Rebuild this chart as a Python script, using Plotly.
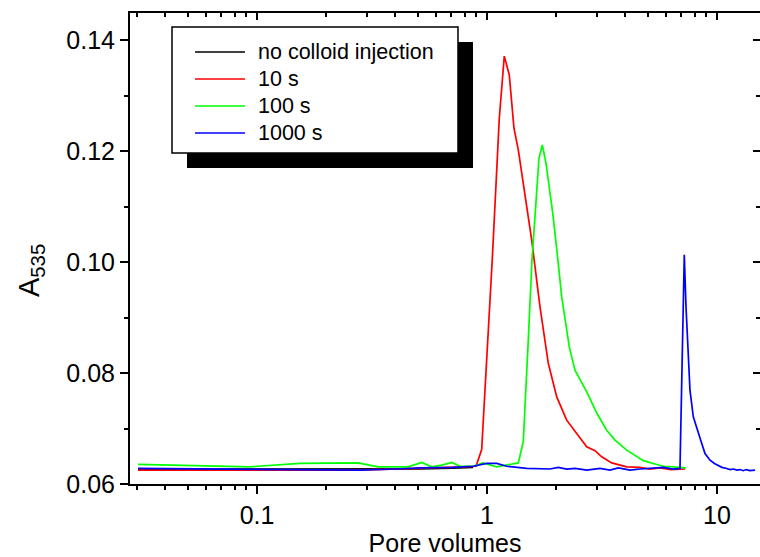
import plotly.graph_objects as go

# ---------------- data ----------------
series_names = ["no colloid injection", "10 s", "100 s", "1000 s"]
series_colors = ["#000000", "#FF0000", "#00FF00", "#0000FF"]

x_none = [0.0304, 0.15, 0.28, 0.51, 0.71, 0.87]
y_none = [0.06265, 0.06262, 0.06262, 0.06272, 0.06285, 0.06300]

x_10s = [0.0304, 0.26, 0.51, 0.71, 0.896, 0.948, 1.054, 1.131, 1.189, 1.250, 1.310,
         1.368, 1.462, 1.564, 1.700, 1.848, 2.01, 2.22, 2.455, 2.714, 2.949,
         3.153, 3.485, 4.05, 4.62, 5.10, 5.65, 6.30, 7.26]
y_10s = [0.0625, 0.0625, 0.0628, 0.0630, 0.0632, 0.0662, 0.1004, 0.1259, 0.1371, 0.1337, 0.1241,
         0.1202, 0.1124, 0.1040, 0.0919, 0.0817, 0.0757, 0.0715, 0.0691, 0.0667, 0.0660,
         0.0649, 0.0638, 0.0631, 0.0630, 0.0627, 0.0629, 0.0626, 0.0627]

x_100s = [0.0304, 0.0932, 0.1538, 0.2749, 0.3358, 0.4533, 0.5201, 0.5747, 0.6353, 0.7024,
          0.7632, 0.872, 0.961, 1.102, 1.368, 1.438, 1.512, 1.569, 1.683, 1.740, 1.805,
          1.931, 2.02, 2.113, 2.279, 2.413, 2.714, 3.008, 3.315, 3.602, 4.05, 4.445,
          4.783, 5.285, 5.842, 6.457, 7.331]
y_100s = [0.06355, 0.0631, 0.0637, 0.0638, 0.0631, 0.0631, 0.0639, 0.0631, 0.0634, 0.0639,
          0.0632, 0.0632, 0.0638, 0.0631, 0.0638, 0.0676, 0.0860, 0.1004, 0.1187, 0.1211, 0.1178,
          0.1088, 0.1015, 0.0937, 0.0847, 0.0805, 0.0766, 0.0727, 0.0697, 0.0679, 0.0661, 0.0650,
          0.0642, 0.0637, 0.0632, 0.0631, 0.0629]

x_1000s = [0.0304, 0.1538, 0.2805, 0.4049, 0.5114, 0.7137, 0.872, 0.997, 1.102, 1.218,
           1.488, 1.879, 2.042, 2.221, 2.413, 2.714, 3.099, 3.426, 3.723, 4.185, 4.626,
           5.842, 6.457, 6.904, 7.207, 7.331, 7.428, 7.63, 7.888, 8.161, 8.495, 8.869,
           9.324, 9.75, 10.13, 10.5, 11.02, 11.4, 11.8, 12.2, 12.59, 13.0, 13.4, 13.9, 14.63]
y_1000s = [0.0628, 0.0625, 0.0625, 0.0627, 0.0629, 0.0630, 0.0632, 0.0637, 0.0637, 0.0632,
           0.0628, 0.0627, 0.0630, 0.0627, 0.0628, 0.0625, 0.0628, 0.0625, 0.0629, 0.0625, 0.0627,
           0.0630, 0.0627, 0.0628, 0.1013, 0.0920, 0.0860, 0.0769, 0.0721, 0.0700, 0.0679, 0.0655,
           0.0643, 0.0637, 0.0634, 0.0630, 0.0628, 0.0626, 0.0627, 0.0625, 0.0626, 0.0624,
           0.0626, 0.0624, 0.0625]

x_major = [0.1, 1, 10]
x_major_text = ["0.1", "1", "10"]
x_minor = [0.03, 0.04, 0.05, 0.06, 0.07, 0.08, 0.09,
           0.2, 0.3, 0.4, 0.5, 0.6, 0.7, 0.8, 0.9,
           2, 3, 4, 5, 6, 7, 8, 9]
y_major = [0.06, 0.08, 0.10, 0.12, 0.14]
y_minor = [0.07, 0.09, 0.11, 0.13]

# ---------------- layout geometry (pixels) ----------------
W, H = 760, 557
L, T, R, B = 130, 13, 760, 484
PW, PH = R - L, B - T
FONT = "Liberation Sans, Arial, sans-serif"


def px(x):
    return (x - L) / PW


def py(y):
    return (B - y) / PH


fig = go.Figure()
all_x = [x_none, x_10s, x_100s, x_1000s]
all_y = [y_none, y_10s, y_100s, y_1000s]
for name, col, xs, ys in zip(series_names, series_colors, all_x, all_y):
    fig.add_trace(go.Scatter(x=xs, y=ys, mode="lines", name=name,
                             line=dict(color=col, width=1.7), showlegend=False))

# empty helper trace so that the mirrored (top / right) axes get drawn
fig.add_trace(go.Scatter(x=[None], y=[None], xaxis="x2", yaxis="y2",
                         mode="lines", showlegend=False, hoverinfo="skip"))

xr = [(L - 487) / 230, (R - 487) / 230]
yr = [0.06, 0.06 + (B - T) / 111 * 0.02]

tick_common = dict(showgrid=False, zeroline=False, tickwidth=1.5, tickcolor="black")

fig.update_layout(
    width=W, height=H,
    margin=dict(l=L, r=W - R, t=T, b=H - B, pad=0),
    paper_bgcolor="white", plot_bgcolor="white",
    font=dict(family=FONT, color="black"),
    xaxis=dict(type="log", range=xr, showline=True, linecolor="black", linewidth=2,
               ticks="outside", ticklen=8, tickmode="array", tickvals=x_major,
               ticktext=x_major_text, tickfont=dict(size=25),
               minor=dict(tickmode="array", tickvals=x_minor, ticks="outside",
                          ticklen=4, tickwidth=1.5, tickcolor="black", showgrid=False),
               title=dict(text="Pore volumes", font=dict(size=25), standoff=6),
               **tick_common),
    yaxis=dict(range=yr, showline=True, linecolor="black", linewidth=2,
               ticks="outside", ticklen=8, tickmode="array", tickvals=y_major,
               tickformat=".2f", tickfont=dict(size=25),
               minor=dict(tickmode="array", tickvals=y_minor, ticks="outside",
                          ticklen=4, tickwidth=1.5, tickcolor="black", showgrid=False),
               **tick_common),
    xaxis2=dict(type="log", overlaying="x", side="top", matches="x", range=xr,
                showline=True, linecolor="black", linewidth=2,
                ticks="inside", ticklen=7, tickmode="array", tickvals=x_major,
                showticklabels=False,
                minor=dict(tickmode="array", tickvals=x_minor, ticks="inside",
                           ticklen=4, tickwidth=1.5, tickcolor="black", showgrid=False),
                **tick_common),
    yaxis2=dict(overlaying="y", side="right", matches="y", range=yr, showline=False,
                ticks="inside", ticklen=7, tickmode="array", tickvals=y_major,
                showticklabels=False,
                minor=dict(tickmode="array", tickvals=y_minor, ticks="inside",
                           ticklen=4, tickwidth=1.5, tickcolor="black", showgrid=False),
                **tick_common),
)

# y-axis title (A with subscript 535)
fig.add_annotation(text="A<sub>535</sub>", xref="paper", yref="paper",
                   x=px(31), y=py(271), textangle=-90, showarrow=False,
                   xanchor="center", yanchor="middle", font=dict(size=29))

# ---------------- legend box with drop shadow ----------------
bx0, by0, bx1, by1 = 172, 27, 458, 153
sh = 15
fig.add_shape(type="rect", xref="paper", yref="paper",
              x0=px(bx0 + sh), x1=px(bx1 + sh), y0=py(by1 + sh), y1=py(by0 + sh),
              fillcolor="black", line=dict(width=0), layer="above")
fig.add_shape(type="rect", xref="paper", yref="paper",
              x0=px(bx0), x1=px(bx1), y0=py(by1), y1=py(by0),
              fillcolor="white", line=dict(color="black", width=1.5), layer="above")
row_y = [52, 79, 106, 133]
for name, col, ry in zip(series_names, series_colors, row_y):
    fig.add_shape(type="line", xref="paper", yref="paper",
                  x0=px(195), x1=px(245), y0=py(ry), y1=py(ry),
                  line=dict(color=col, width=1.7), layer="above")
    fig.add_annotation(text=name, xref="paper", yref="paper", x=px(256), y=py(ry),
                       xanchor="left", yanchor="middle", showarrow=False,
                       font=dict(size=21.5))

fig.write_html("out.html")
